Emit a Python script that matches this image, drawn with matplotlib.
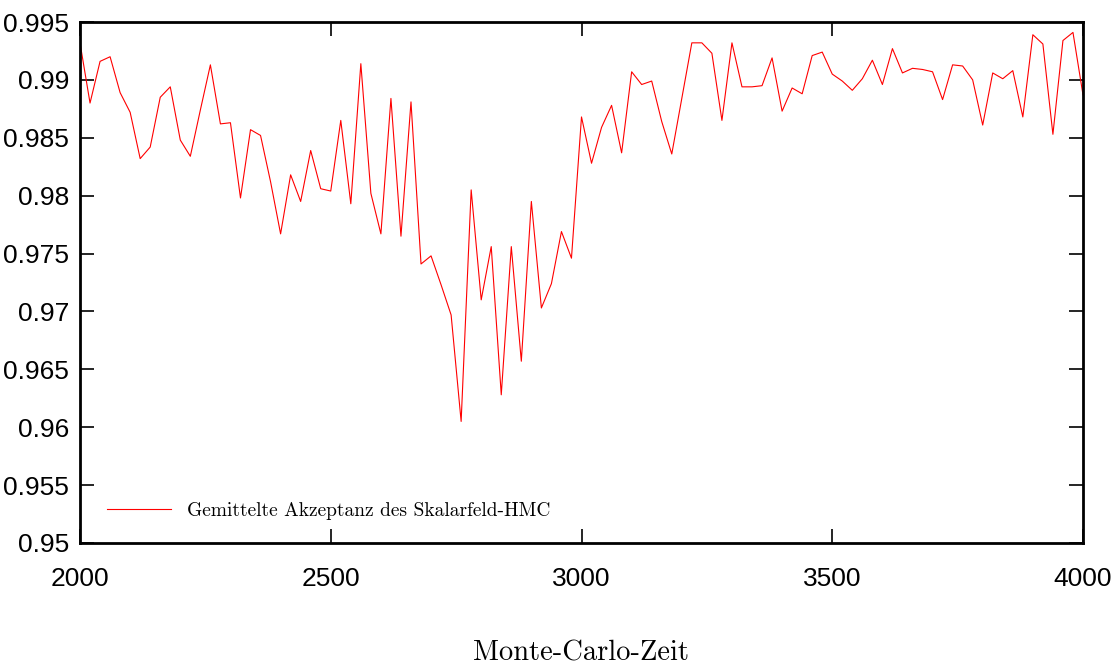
from matplotlib import pyplot as plt
import matplotlib.font_manager as fm

# Monte-Carlo time, step 20
mc_start = 2000
mc_step = 20

acceptance = [
  0.9932, 0.9880, 0.9916, 0.9920, 0.9889, 0.9872, 0.9832, 0.9842, 0.9885, 0.9894,
  0.9848, 0.9834, 0.9874, 0.9913, 0.9862, 0.9863, 0.9798, 0.9857, 0.9852, 0.9812,
  0.9767, 0.9818, 0.9795, 0.9839, 0.9806, 0.9804,
  0.9865, 0.9793, 0.9914, 0.9802, 0.9767, 0.9884, 0.9765, 0.9881, 0.9741, 0.9748,
  0.9723, 0.9697, 0.9605, 0.9805, 0.9710, 0.9756, 0.9628, 0.9756, 0.9657, 0.9795,
  0.9703, 0.9724, 0.9769, 0.9746, 0.9868,
  0.9828, 0.9859, 0.9878, 0.9837, 0.9907, 0.9896, 0.9899, 0.9864, 0.9836, 0.9884,
  0.9932, 0.9932, 0.9923, 0.9865, 0.9932, 0.9894, 0.9894, 0.9895, 0.9919, 0.9873,
  0.9893, 0.9888, 0.9921, 0.9924,
  0.9905, 0.9899, 0.9891, 0.9901, 0.9917, 0.9896, 0.9927, 0.9906, 0.9910, 0.9909,
  0.9907, 0.9883, 0.9913, 0.9912, 0.9900, 0.9861, 0.9906, 0.9901, 0.9908, 0.9868,
  0.9939, 0.9931, 0.9853, 0.9934, 0.9941, 0.9887,
]
mc_time = [mc_start + mc_step * i for i in range(len(acceptance))]

x_ticks = [2000, 2500, 3000, 3500, 4000]
y_ticks = [0.95, 0.955, 0.96, 0.965, 0.97, 0.975, 0.98, 0.985, 0.99, 0.995]
y_labels = ['0.95', '0.955', '0.96', '0.965', '0.97', '0.975', '0.98', '0.985', '0.99', '0.995']

label_text = 'Gemittelte Akzeptanz des Skalarfeld-HMC'
x_title = 'Monte-Carlo-Zeit'


def pick_font(names):
  available = {f.name for f in fm.fontManager.ttflist}
  for n in names:
    if n in available:
      return n
  return 'DejaVu Sans'


def main():
  sans = pick_font(['Liberation Sans Narrow', 'Liberation Sans', 'DejaVu Sans'])
  serif = pick_font(['cmr10', 'DejaVu Serif'])

  fig = plt.figure(figsize=(11.18, 6.66), dpi=100)
  ax = fig.add_axes([80 / 1118, 1 - 543 / 666, 1003 / 1118, 521 / 666])

  ax.plot(mc_time, acceptance, color='#ff0000', linewidth=0.8, label=label_text)

  ax.set_xlim(2000, 4000)
  ax.set_ylim(0.95, 0.995)
  ax.set_xticks(x_ticks)
  ax.set_xticklabels([str(t) for t in x_ticks], fontfamily=sans, fontsize=19)
  ax.set_yticks(y_ticks)
  ax.set_yticklabels(y_labels, fontfamily=sans, fontsize=19)

  ax.tick_params(direction='in', length=10, width=1.2, top=True, right=True)
  ax.tick_params(axis='x', pad=17)
  ax.tick_params(axis='y', pad=8)
  for s in ax.spines.values():
    s.set_linewidth(2)

  ax.set_xlabel(x_title, fontfamily=serif, fontsize=20.5, labelpad=36)

  ax.legend(loc='center left', bbox_to_anchor=(27 / 1003, 32 / 521), frameon=False,
            borderpad=0, borderaxespad=0, handlelength=3.3, handletextpad=0.8,
            prop={'family': serif, 'size': 14})

  fig.savefig('out.png', dpi=100)


if __name__ == '__main__':
  main()
